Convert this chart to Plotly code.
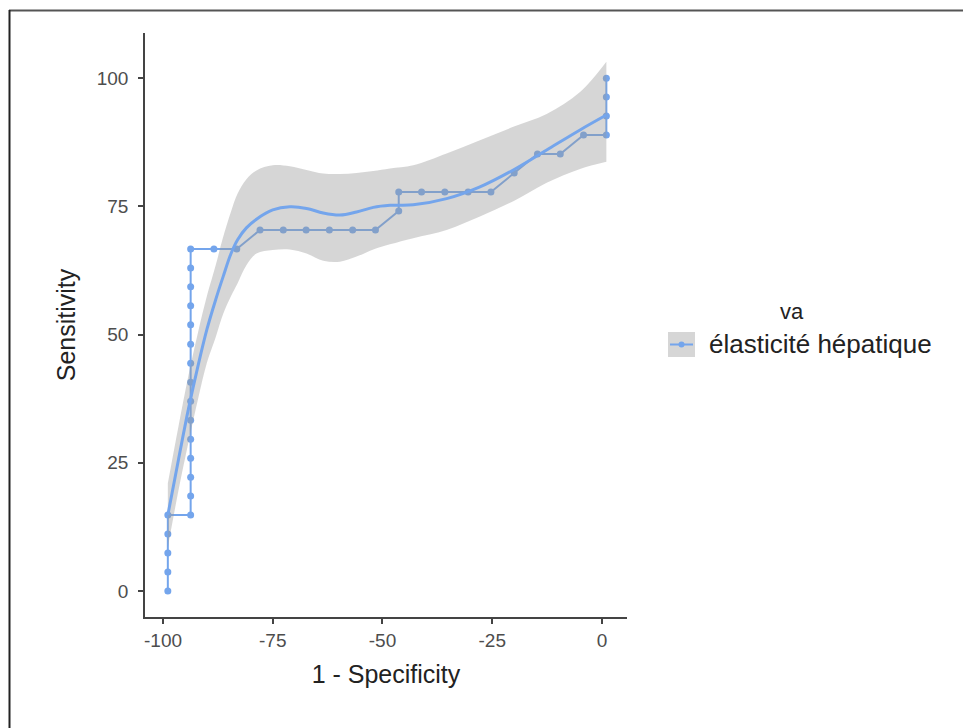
import plotly.graph_objects as go

# ROC steps (1 - Specificity shown on a -100..0 scale, Sensitivity in %)
roc_x = [-98.9, -98.9, -98.9, -98.9, -98.9,
         -93.7, -93.7, -93.7, -93.7, -93.7, -93.7, -93.7, -93.7, -93.7, -93.7,
         -93.7, -93.7, -93.7, -93.7, -93.7,
         -88.4, -83.2, -77.9, -72.6, -67.4, -62.1, -56.8, -51.6,
         -46.3, -46.3, -41.1, -35.8, -30.5, -25.3, -20.0, -14.7, -9.5, -4.2,
         1.0, 1.0, 1.0, 1.0]
roc_y = [0.0, 3.7, 7.4, 11.1, 14.8,
         14.8, 18.5, 22.2, 25.9, 29.6, 33.3, 37.0, 40.7, 44.4, 48.1,
         51.9, 55.6, 59.3, 63.0, 66.7,
         66.7, 66.7, 70.4, 70.4, 70.4, 70.4, 70.4, 70.4,
         74.1, 77.8, 77.8, 77.8, 77.8, 77.8, 81.5, 85.2, 85.2, 88.9,
         88.9, 92.6, 96.3, 100.0]

# Smoothed curve and its confidence band
smooth_x = [-98.9, -96.5, -94.2, -92.0, -90.0, -88.0, -86.3, -84.5, -83.0, -81.0,
            -78.7, -75.0, -71.1, -67.3, -63.5, -59.7, -55.9, -52.1, -48.3, -43.0,
            -35.4, -27.8, -20.2, -12.6, -5.0, 1.0]
smooth_y = [14.8, 25.5, 35.5, 44.0, 51.0, 56.8, 61.3, 65.8, 68.5, 70.8,
            72.5, 74.3, 74.9, 74.6, 73.7, 73.3, 73.9, 74.8, 75.2, 75.3,
            76.5, 78.8, 82.1, 86.0, 89.9, 92.8]
band_upper = [21.0, 32.0, 42.0, 50.5, 57.5, 63.5, 69.0, 74.0, 77.5, 80.3,
              82.0, 83.0, 82.8, 82.1, 81.4, 81.3, 81.5, 81.9, 82.4, 83.0,
              85.3, 87.9, 90.5, 93.0, 97.3, 103.2]
band_lower = [8.5, 19.5, 29.0, 37.5, 44.5, 49.5, 54.0, 57.5, 60.0, 63.5,
              65.8, 66.5, 66.6, 65.8, 64.4, 64.2, 65.2, 66.6, 67.6, 68.8,
              70.4, 73.0, 76.0, 79.6, 82.3, 83.7]

x_ticks = [-100, -75, -50, -25, 0]
x_tick_labels = ["-100", "-75", "-50", "-25", "0"]
y_ticks = [0, 25, 50, 75, 100]
y_tick_labels = ["0", "25", "50", "75", "100"]
series_name = "élasticité hépatique"
legend_title = "va"

BLUE = "#74A5EC"
BAND = "rgba(153,153,153,0.4)"
FONT = "Liberation Sans, Arial, sans-serif"

# page has an 8px body margin: figure spans page pixels 8..971 x 8..728
OFF = 8
W, H = 971 - OFF, 728 - OFF
L, R, T, B = 145, 627, 33, 617   # plot area in page pixels


def px(p):
    return (p - L) / (R - L)


def py(p):
    return (B - p) / (B - T)


fig = go.Figure()

fig.add_trace(go.Scatter(
    x=roc_x, y=roc_y, mode="lines+markers",
    line=dict(color=BLUE, width=2),
    marker=dict(color=BLUE, size=7),
    showlegend=False, hoverinfo="skip"))

# confidence band: lower edge, then upper edge filled down to it
fig.add_trace(go.Scatter(
    x=smooth_x, y=band_lower, mode="lines",
    line=dict(width=0, shape="spline", color="rgba(0,0,0,0)"),
    showlegend=False, hoverinfo="skip"))
fig.add_trace(go.Scatter(
    x=smooth_x, y=band_upper, mode="lines",
    fill="tonexty", fillcolor=BAND,
    line=dict(width=0, shape="spline", color="rgba(0,0,0,0)"),
    showlegend=False, hoverinfo="skip"))

fig.add_trace(go.Scatter(
    x=smooth_x, y=smooth_y, mode="lines",
    line=dict(color=BLUE, width=3, shape="spline"),
    showlegend=False))

shapes = [
    # outer frame of the picture
    dict(type="line", xref="paper", yref="paper", x0=px(9), x1=px(975), y0=py(10.5), y1=py(10.5),
         line=dict(color="#555", width=2)),
    dict(type="line", xref="paper", yref="paper", x0=px(9.5), x1=px(9.5), y0=py(10), y1=py(735),
         line=dict(color="#222", width=2)),
    # legend key
    dict(type="rect", xref="paper", yref="paper", x0=px(668), x1=px(695), y0=py(332), y1=py(357),
         fillcolor="#d6d6d6", line=dict(width=0)),
    dict(type="line", xref="paper", yref="paper", x0=px(670), x1=px(693), y0=py(344.5), y1=py(344.5),
         line=dict(color=BLUE, width=2)),
    dict(type="circle", xref="paper", yref="paper", x0=px(678.5), x1=px(684.5), y0=py(341.5), y1=py(347.5),
         fillcolor=BLUE, line=dict(width=0)),
]

annotations = [
    dict(xref="paper", yref="paper", x=px(792), y=py(311), text=legend_title, showarrow=False,
         xanchor="center", yanchor="middle", font=dict(size=22, color="#222", family=FONT)),
    dict(xref="paper", yref="paper", x=px(707), y=py(344), text=series_name, showarrow=False,
         xanchor="left", yanchor="middle", font=dict(size=26, color="#222", family=FONT)),
]

fig.update_layout(
    width=W, height=H,
    margin=dict(l=L - OFF, r=W - (R - OFF), t=T - OFF, b=H - (B - OFF), pad=0),
    paper_bgcolor="white", plot_bgcolor="white",
    font=dict(family=FONT, color="#4d4d4d"),
    showlegend=False,
    xaxis=dict(range=[-104.1, 5.7], tickvals=x_ticks, ticktext=x_tick_labels,
               showgrid=False, zeroline=False,
               showline=True, linecolor="#444", linewidth=1.5,
               ticks="outside", ticklen=5, tickcolor="#444", tickwidth=1.5,
               tickfont=dict(size=19, color="#4d4d4d", family=FONT),
               title=dict(text="1 - Specificity", font=dict(size=25, color="#222", family=FONT),
                          standoff=16)),
    yaxis=dict(range=[-5.07, 108.8], tickvals=y_ticks, ticktext=y_tick_labels,
               showgrid=False, zeroline=False,
               showline=True, linecolor="#444", linewidth=1.5,
               ticks="outside", ticklen=5, tickcolor="#444", tickwidth=1.5,
               tickfont=dict(size=19, color="#4d4d4d", family=FONT),
               ticklabelstandoff=6,
               title=dict(text="Sensitivity", font=dict(size=25, color="#222", family=FONT),
                          standoff=14)),
    shapes=shapes,
    annotations=annotations,
)

fig.write_html("out.html")
